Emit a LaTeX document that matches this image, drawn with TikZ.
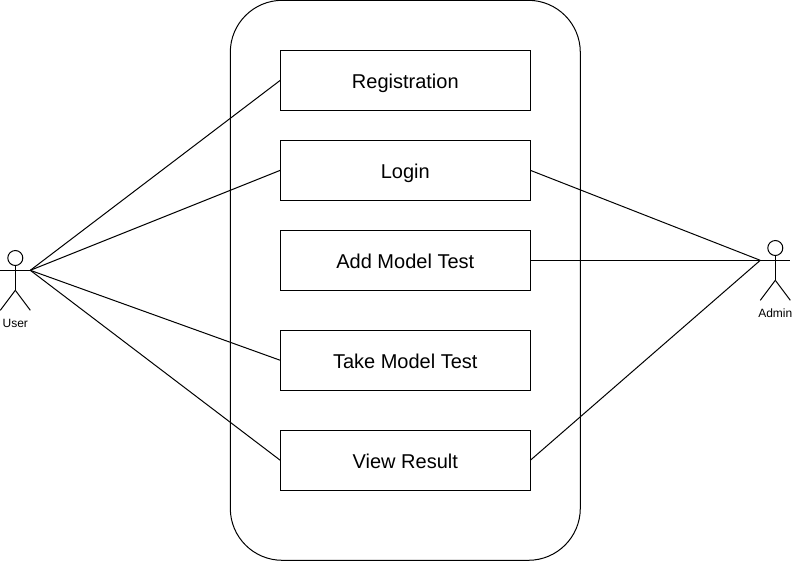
\documentclass[tikz,border=0pt]{standalone}
\usepackage{fontspec}
\setmainfont{Liberation Sans}
\tikzset{
  uc/.style={draw=black,rectangle,minimum width=187.5pt,minimum height=45pt,inner sep=0pt,outer sep=0pt,font=\fontsize{15pt}{17pt}\selectfont,text height=12.3pt,text depth=0pt,anchor=north west},
  lbl/.style={inner sep=0pt,font=\fontsize{9pt}{10pt}\selectfont},
  link/.style={draw=black},
  actor/.style={draw=black}
}
\begin{document}
\begin{tikzpicture}[x=0.75pt,y=-0.75pt,line width=0.75pt]
\useasboundingbox (0,0) rectangle (794,562);
\draw[rounded corners=39pt] (230.3,0.3) rectangle (580.3,560.3);
\node[uc] (reg) at (280.3,50.3) {Registration};
\node[uc] (log) at (280.3,140.3) {Login};
\node[uc] (add) at (280.3,230.3) {Add Model Test};
\node[uc] (take) at (280.3,330.3) {Take Model Test};
\node[uc] (view) at (280.3,430.3) {View Result};
% user
\coordinate (u) at (30.3,270.3);
\draw[actor] (15.3,258) circle (7.5);
\draw[actor] (15.3,265.5) -- (15.3,290.3);
\draw[actor] (0.3,270.3) -- (30.3,270.3);
\draw[actor] (15.3,290.3) -- (0.3,310.3);
\draw[actor] (15.3,290.3) -- (30.3,310.3);
\node[lbl] (ul) at (15.3,323) {User};
% admin
\coordinate (a) at (760.3,260.3);
\draw[actor] (775.3,248) circle (7.5);
\draw[actor] (775.3,255.5) -- (775.3,280.3);
\draw[actor] (760.3,260.3) -- (790.3,260.3);
\draw[actor] (775.3,280.3) -- (760.3,300.3);
\draw[actor] (775.3,280.3) -- (790.3,300.3);
\node[lbl] (al) at (775.3,313) {Admin};
\draw[link] (u) -- (reg.west);
\draw[link] (u) -- (log.west);
\draw[link] (u) -- (take.west);
\draw[link] (u) -- (view.west);
\draw[link] (log.east) -- (a);
\draw[link] (add.east) -- (a);
\draw[link] (view.east) -- (a);
\end{tikzpicture}
\end{document}
